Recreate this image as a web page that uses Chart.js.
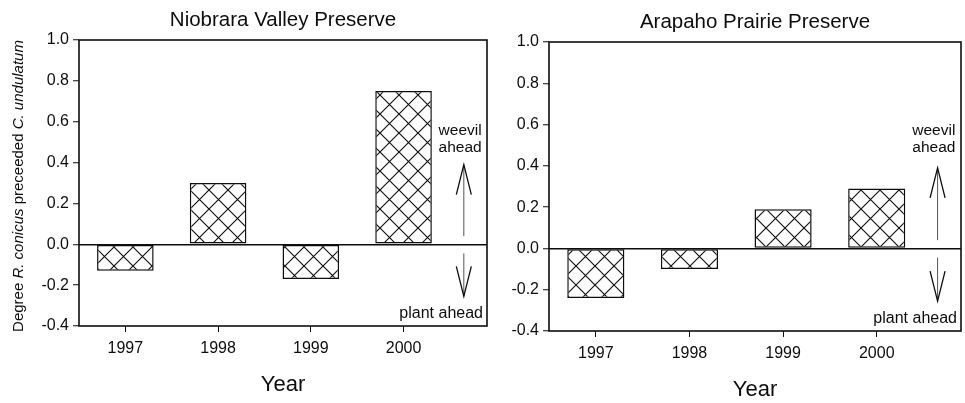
<!DOCTYPE html>
<html>
<head>
<meta charset="utf-8">
<script src="https://cdn.jsdelivr.net/npm/chart.js@4"></script>
<style>
  html, body { margin: 0; padding: 0; background: #fff; }
  .wrap { position: absolute; top: 0; height: 403px; }
  #leftWrap { left: 0; width: 500px; }
  #rightWrap { left: 500px; width: 465px; }
</style>
</head>
<body>
<div class="wrap" id="leftWrap"><canvas id="leftChart"></canvas></div>
<div class="wrap" id="rightWrap"><canvas id="rightChart"></canvas></div>
<script>
const years = [1997, 1998, 1999, 2000];
const niobrara = [-0.13, 0.30, -0.17, 0.75];
const arapaho = [-0.24, -0.10, 0.19, 0.29];
const yTicks = [-0.4, -0.2, 0.0, 0.2, 0.4, 0.6, 0.8, 1.0];
const xRange = [1996.5, 2000.9];
const yRange = [-0.4, 1.0];
// where the "weevil ahead" / "plant ahead" arrows sit, in data units
const arrowX = 2000.65;
const arrowUp = [0.04, 0.39];
const arrowDown = [-0.045, -0.255];

const FONT = '"Liberation Sans", Arial, Helvetica, sans-serif';
const INK = '#0d0d0d';

function hatchPattern() {
    const s = 19;
    const c = document.createElement('canvas');
    c.width = s; c.height = s;
    const g = c.getContext('2d');
    g.fillStyle = '#fff';
    g.fillRect(0, 0, s, s);
    g.strokeStyle = '#111';
    g.lineWidth = 1.15;
    g.beginPath();
    for (const o of [-s, 0, s]) {
        g.moveTo(o, 0); g.lineTo(o + s, s);
        g.moveTo(o + s, 0); g.lineTo(o, s);
    }
    g.stroke();
    return g.createPattern(c, 'repeat');
}

function drawArrow(ctx, x, yFrom, yTo) {
    const dir = yTo < yFrom ? 1 : -1; // head opens back toward the stem
    ctx.save();
    ctx.strokeStyle = '#555';
    ctx.lineWidth = 1;
    ctx.beginPath();
    ctx.moveTo(x, yFrom);
    ctx.lineTo(x, yTo);
    ctx.stroke();
    ctx.strokeStyle = INK;
    ctx.lineWidth = 1.3;
    ctx.beginPath();
    ctx.moveTo(x - 7.5, yTo + dir * 30);
    ctx.lineTo(x, yTo);
    ctx.lineTo(x + 7.5, yTo + dir * 30);
    ctx.stroke();
    ctx.restore();
}

const decorations = {
    id: 'decorations',
    afterDatasetsDraw(chart, args, opts) {
        const { ctx, chartArea: a, scales: { x, y } } = chart;
        ctx.save();
        // frame round the plot
        ctx.strokeStyle = INK;
        ctx.lineWidth = 1.6;
        ctx.strokeRect(a.left, a.top, a.right - a.left, a.bottom - a.top);

        // panel title
        ctx.fillStyle = INK;
        ctx.textAlign = 'center';
        ctx.textBaseline = 'middle';
        ctx.font = '20.5px ' + FONT;
        ctx.fillText(opts.title, (a.left + a.right) / 2, a.top - 20);

        // arrows and their notes
        const ax = x.getPixelForValue(arrowX);
        drawArrow(ctx, ax, y.getPixelForValue(arrowUp[0]), y.getPixelForValue(arrowUp[1]));
        drawArrow(ctx, ax, y.getPixelForValue(arrowDown[0]), y.getPixelForValue(arrowDown[1]));
        ctx.font = '15.5px ' + FONT;
        ctx.textBaseline = 'alphabetic';
        const tx = x.getPixelForValue(2000.61);
        ctx.fillText('weevil', tx, 135);
        ctx.fillText('ahead', tx, 152);
        ctx.textAlign = 'right';
        ctx.font = '16px ' + FONT;
        ctx.fillText('plant ahead', a.right - 4, a.bottom - 8);

        // y axis title with italic species names
        if (opts.yTitle) {
            const parts = [
                ['Degree ', ''], ['R. conicus', 'italic '], [' preceeded ', ''],
                ['C. undulatum', 'italic ']
            ];
            ctx.translate(19, 186);
            ctx.rotate(-Math.PI / 2);
            ctx.textAlign = 'left';
            ctx.textBaseline = 'middle';
            let total = 0;
            for (const [t, st] of parts) {
                ctx.font = st + '15px ' + FONT;
                total += ctx.measureText(t).width;
            }
            let px = -total / 2;
            for (const [t, st] of parts) {
                ctx.font = st + '15px ' + FONT;
                ctx.fillText(t, px, 0);
                px += ctx.measureText(t).width;
            }
        }
        ctx.restore();
    }
};

function makeChart(id, title, values, lay) {
    return new Chart(document.getElementById(id), {
        type: 'bar',
        data: {
            datasets: [{
                data: years.map((yr, i) => ({ x: yr, y: values[i] })),
                backgroundColor: hatchPattern(),
                borderColor: INK,
                borderWidth: 1.5,
                borderSkipped: false,
                barPercentage: 0.61,
                categoryPercentage: 1
            }]
        },
        options: {
            responsive: true,
            maintainAspectRatio: false,
            animation: false,
            layout: { padding: { top: lay.top, right: lay.right, left: 0, bottom: 0 } },
            plugins: {
                legend: { display: false },
                tooltip: { enabled: false },
                decorations: { title: title, yTitle: lay.yTitle }
            },
            scales: {
                x: {
                    type: 'linear',
                    offset: false,
                    min: xRange[0],
                    max: xRange[1],
                    afterBuildTicks: s => { s.ticks = years.map(v => ({ value: v })); },
                    afterFit: s => { s.height = lay.xHeight; },
                    ticks: {
                        color: INK,
                        padding: 7,
                        font: { family: FONT, size: 16 },
                        callback: v => String(v)
                    },
                    grid: { offset: false, drawOnChartArea: false, drawTicks: true, tickLength: 6, tickColor: INK, tickWidth: 1 },
                    border: { display: false },
                    title: {
                        display: true,
                        text: 'Year',
                        color: INK,
                        font: { family: FONT, size: 22 },
                        padding: { top: 0, bottom: lay.yearPad }
                    }
                },
                y: {
                    min: yRange[0],
                    max: yRange[1],
                    afterBuildTicks: s => { s.ticks = yTicks.map(v => ({ value: v })); },
                    afterFit: s => { s.width = lay.yWidth; },
                    ticks: {
                        color: INK,
                        padding: 4,
                        font: { family: FONT, size: 16 },
                        callback: v => Math.abs(v) < 1e-9 ? '0.0' : Number(v).toFixed(1)
                    },
                    grid: {
                        drawTicks: true,
                        tickLength: 6,
                        tickColor: INK,
                        tickWidth: 1,
                        lineWidth: 1.5,
                        color: c => (c.tick && Math.abs(c.tick.value) < 1e-9) ? INK : 'rgba(0,0,0,0)'
                    },
                    border: { display: false }
                }
            }
        },
        plugins: [decorations]
    });
}

makeChart('leftChart', 'Niobrara Valley Preserve', niobrara,
    { top: 40, right: 13, yWidth: 79, xHeight: 77, yearPad: 5, yTitle: true });
makeChart('rightChart', 'Arapaho Prairie Preserve', arapaho,
    { top: 42, right: 4, yWidth: 49, xHeight: 72, yearPad: 0, yTitle: false });
</script>
</body>
</html>
